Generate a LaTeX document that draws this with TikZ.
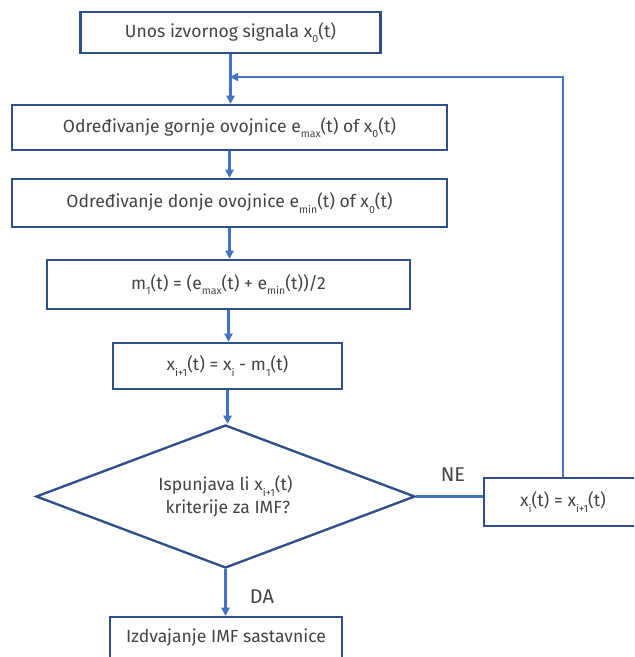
\documentclass[tikz,border=0pt]{standalone}
\usepackage{fontspec}
\setmainfont{Fira Sans}
\usetikzlibrary{shapes.geometric,arrows.meta}
\definecolor{boxc}{HTML}{2F4F8A}
\definecolor{arrc}{HTML}{4472C4}
\definecolor{txtc}{HTML}{444444}
\newcommand\sbs[1]{\raisebox{-0.6ex}{\fontsize{9}{9}\selectfont #1}}
\begin{document}
\begin{tikzpicture}[x=0.03cm,y=-0.03cm,
 box/.style={draw=boxc, line width=2pt, text=txtc, font=\fontsize{15}{18}\selectfont, inner sep=0pt, anchor=center},
 arr/.style={draw=arrc, line width=1.9pt, -{Triangle[length=7pt,width=7pt]}},
 ln/.style={draw=arrc, line width=1.9pt},
 lbl/.style={text=txtc, font=\fontsize{17}{20}\selectfont}]
\useasboundingbox (0,0) rectangle (634,657);
\clip (0,0) rectangle (634,657);
\fill[white] (0,0) rectangle (634,657);
\node[box, minimum width=9cm, minimum height=1.23cm] (b1) at (230.5,32.5) {Unos izvornog signala x\sbs{0}(t)};
\node[box, minimum width=13.05cm, minimum height=1.35cm] (b2) at (229.5,127.5) {Određivanje gornje ovojnice e\sbs{max}(t) of x\sbs{0}(t)};
\node[box, minimum width=13.05cm, minimum height=1.44cm] (b3) at (229.5,203) {Određivanje donje ovojnice e\sbs{min}(t) of x\sbs{0}(t)};
\node[box, minimum width=10.89cm, minimum height=1.47cm] (b4) at (228.5,284.5) {m\sbs{1}(t) = (e\sbs{max}(t) + e\sbs{min}(t))/2};
\node[box, minimum width=6.87cm, minimum height=1.38cm] (b5) at (227.5,366) {x\sbs{i+1}(t) = x\sbs{i} - m\sbs{1}(t)};
\node[box, diamond, aspect=2.65, minimum width=11.37cm, minimum height=4.29cm, align=center] (d) at (225.5,496.5) {Ispunjava li x\sbs{i+1}(t)\\[1pt] \ kriterije za IMF?};
\node[box, minimum width=4.74cm, minimum height=1.44cm] (xi) at (563,502) {x\sbs{i}(t) = x\sbs{i+1}(t)};
\node[box, minimum width=6.96cm, minimum height=1.26cm] (f) at (226,638) {Izdvajanje IMF sastavnice};
\coordinate (j) at (230,77);
\draw[arr] (b1.south) -- (b1.south |- b2.north);
\draw[arr, line width=1.4pt] (xi.north) |- (j);
\draw[arr] (b2.south) -- (b2.south |- b3.north);
\draw[arr] (b3.south) -- (b3.south |- b4.north);
\draw[arr] (b4.south) -- (b4.south |- b5.north);
\draw[arr] (b5.south) -- (b5.south |- d.north);
\draw[ln] (d.east) -- (d.east -| xi.west);
\draw[arr] (d.south) -- (d.south |- f.north);
\node[lbl] (ne) at (453,475) {NE};
\node[lbl] (da) at (262,597) {DA};
\end{tikzpicture}
\end{document}
